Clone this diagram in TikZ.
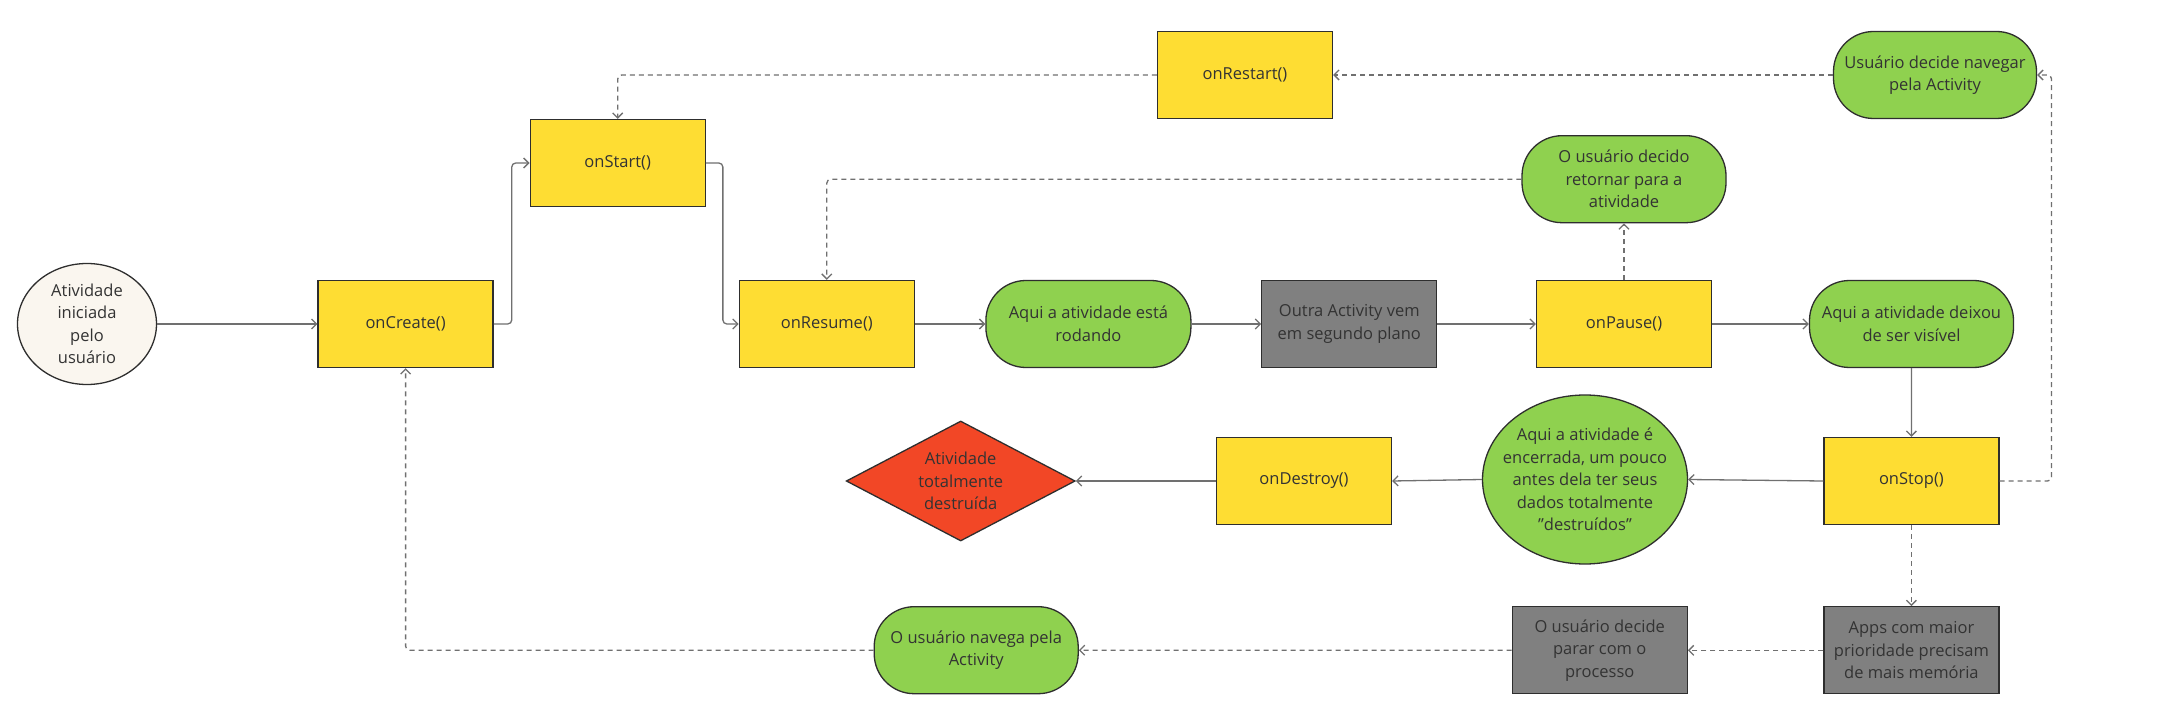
\documentclass[tikz,border=0pt]{standalone}
\usepackage{fontspec}
\setmainfont{Open Sans}
\usetikzlibrary{arrows.meta,shapes.geometric}
\definecolor{ylw}{HTML}{FEDD33}
\definecolor{grn}{HTML}{8FD14F}
\definecolor{gry}{HTML}{808080}
\definecolor{redd}{HTML}{F24726}
\definecolor{cream}{HTML}{FAF6EF}
\definecolor{txt}{HTML}{333333}
\definecolor{bord}{HTML}{2E2E2E}
\definecolor{conn}{HTML}{707070}
\tikzset{
  base/.style={align=center, font=\fontsize{16.5}{22.5}\selectfont, text=txt, draw=bord, line width=1.3pt, inner sep=0pt},
  intext/.style={align=center, font=\fontsize{16.5}{22.5}\selectfont, text=txt, draw=none, fill=none, inner sep=0pt},
  ybox/.style={base, rectangle, fill=ylw, minimum width=175pt, minimum height=87pt},
  gbox/.style={base, rectangle, fill=gry, minimum width=175pt, minimum height=87pt},
  pill/.style={base, rectangle, fill=grn, rounded corners=40pt, minimum width=204pt, minimum height=87pt},
  solidc/.style={draw=conn, line width=1.3pt, rounded corners=4pt, -{Straight Barb[length=5pt,width=10pt]}},
  dashc/.style={draw=conn, line width=1.3pt, dash pattern=on 5pt off 4pt, rounded corners=4pt, -{Straight Barb[length=5pt,width=10pt]}}
}
\begin{document}
\begin{tikzpicture}[x=1pt,y=-1pt]
\useasboundingbox (0,0) rectangle (2172,719);
\fill[white] (0,0) rectangle (2172,719);
% nodes
\node[base, ellipse, fill=cream, minimum width=139pt, minimum height=121pt,
  label={[intext]center:{Atividade\\iniciada\\pelo\\usuário}}] (start) at (87,324) {};
\node[ybox] (onCreate) at (405.6,324) {onCreate()};
\node[ybox] (onStart) at (617.7,163) {onStart()};
\node[ybox] (onRestart) at (1245,75) {onRestart()};
\node[pill, minimum width=203pt] (navegar) at (1935,75) {Usuário decide navegar\\pela Activity};
\node[pill] (decido) at (1624,179.2) {O usuário decido\\retornar para a\\atividade};
\node[ybox] (onResume) at (826.8,324) {onResume()};
\node[pill, minimum width=205pt] (rodando) at (1088.4,324) {Aqui a atividade está\\rodando};
\node[gbox] (outra) at (1349.3,324) {Outra Activity vem\\em segundo plano};
\node[ybox] (onPause) at (1624,324) {onPause()};
\node[pill] (deixou) at (1911.5,324) {Aqui a atividade deixou\\de ser visível};
\node[ybox] (onStop) at (1911.4,481) {onStop()};
\node[base, ellipse, fill=grn, minimum width=205pt, minimum height=169pt,
  label={[intext]center:{Aqui a atividade é\\encerrada, um pouco\\antes dela ter seus\\dados totalmente\\"destruídos"}}] (encerrada) at (1585,479.5) {};
\node[ybox] (onDestroy) at (1304,481) {onDestroy()};
\node[base, diamond, fill=redd, minimum width=229pt, minimum height=120pt,
  label={[intext]center:{Atividade\\totalmente\\destruída}}] (destruida) at (960.7,481) {};
\node[gbox] (apps) at (1911.4,650.3) {Apps com maior\\prioridade precisam\\de mais memória};
\node[gbox] (parar) at (1599.7,650.3) {O usuário decide\\parar com o\\processo};
\node[pill] (navega) at (976.2,650.2) {O usuário navega pela\\Activity};
% solid connectors
\draw[solidc] (start.east) -- (onCreate.west);
\draw[solidc] (onCreate.east) -- ++(18,0) |- (onStart.west);
\draw[solidc] (onStart.east) -- ++(17,0) |- (onResume.west);
\draw[solidc] (onResume.east) -- (rodando.west);
\draw[solidc] (rodando.east) -- (outra.west);
\draw[solidc] (outra.east) -- (onPause.west);
\draw[solidc] (onPause.east) -- (deixou.west);
\draw[solidc] (deixou.south) -- (onStop.north);
\draw[solidc] (onStop.west) -- (encerrada.east);
\draw[solidc] (encerrada.west) -- (onDestroy.east);
\draw[solidc] (onDestroy.west) -- (destruida.east);
% dashed connectors
\draw[dashc] (onPause.north) -- (decido.south);
\draw[dashc] (decido.west) -| (onResume.north);
\draw[dashc] (navegar.west) -- (onRestart.east);
\draw[dashc] (onRestart.west) -| (onStart.north);
\draw[dashc] (onStop.east) -- ++(52,0) |- (navegar.east);
\draw[dashc] (onStop.south) -- (apps.north);
\draw[dashc] (apps.west) -- (parar.east);
\draw[dashc] (parar.west) -- (navega.east);
\draw[dashc] (navega.west) -| (onCreate.south);
\end{tikzpicture}
\end{document}
